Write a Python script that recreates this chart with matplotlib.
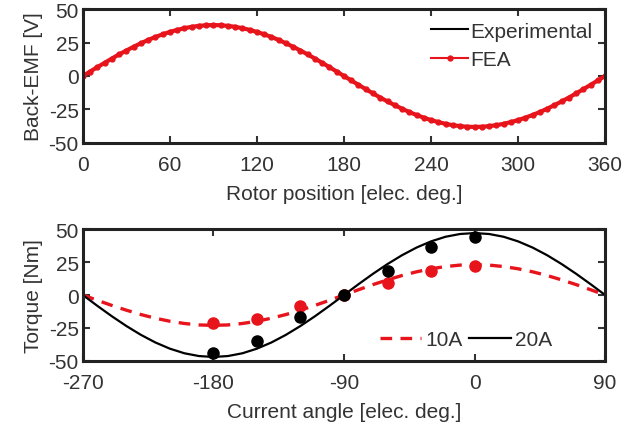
import matplotlib.pyplot as plt

plt.rcParams['font.family'] = ['Liberation Sans', 'DejaVu Sans']
plt.rcParams['font.size'] = 15
plt.rcParams['axes.unicode_minus'] = False
plt.rcParams['text.color'] = '#333333'
plt.rcParams['axes.labelcolor'] = '#333333'
plt.rcParams['xtick.color'] = '#333333'
plt.rcParams['ytick.color'] = '#333333'

# back-EMF vs rotor position
pos_fea = list(range(0, 361, 5))
emf_fea = [0, 3.3, 6.6, 9.8, 13.0, 16.1, 19.0, 21.8, 24.4, 26.9, 29.1, 31.1, 32.9, 34.4, 35.7, 36.7, 37.4, 37.9, 38.0,
           37.9, 37.4, 36.7, 35.7, 34.4, 32.9, 31.1, 29.1, 26.9, 24.4, 21.8, 19.0, 16.1, 13.0, 9.8, 6.6, 3.3, 0,
           -3.3, -6.6, -9.8, -13.0, -16.1, -19.0, -21.8, -24.4, -26.9, -29.1, -31.1, -32.9, -34.4, -35.7, -36.7, -37.4, -37.9, -38.0,
           -37.9, -37.4, -36.7, -35.7, -34.4, -32.9, -31.1, -29.1, -26.9, -24.4, -21.8, -19.0, -16.1, -13.0, -9.8, -6.6, -3.3, 0]
pos_exp = list(range(0, 361, 10))
emf_exp = [0, 6.5, 12.9, 19.0, 24.4, 29.1, 32.9, 35.7, 37.4, 38.0, 37.4, 35.7, 32.9, 29.1, 24.4, 19.0, 12.9, 6.5, 0,
           -6.5, -12.9, -19.0, -24.4, -29.1, -32.9, -35.7, -37.4, -38.0, -37.4, -35.7, -32.9, -29.1, -24.4, -19.0, -12.9, -6.5, 0]

# torque vs current angle
ang_curve = list(range(-270, 91, 10))
tq20_curve = [0, -8.2, -16.1, -23.5, -30.2, -36.0, -40.7, -44.2, -46.3, -47.0, -46.3, -44.2, -40.7, -36.0, -30.2, -23.5, -16.1, -8.2,
              0, 8.2, 16.1, 23.5, 30.2, 36.0, 40.7, 44.2, 46.3, 47.0, 46.3, 44.2, 40.7, 36.0, 30.2, 23.5, 16.1, 8.2, 0]
tq10_curve = [0, -4.0, -7.9, -11.5, -14.8, -17.6, -19.9, -21.6, -22.7, -23.0, -22.7, -21.6, -19.9, -17.6, -14.8, -11.5, -7.9, -4.0,
              0, 4.0, 7.9, 11.5, 14.8, 17.6, 19.9, 21.6, 22.7, 23.0, 22.7, 21.6, 19.9, 17.6, 14.8, 11.5, 7.9, 4.0, 0]
ang_meas = [-180, -150, -120, -90, -60, -30, 0]
tq20_meas = [-44, -35, -17, 0, 18.5, 36.5, 44]
tq10_meas = [-21.5, -18.5, -8.5, 0, 9, 18.5, 22.3]

fig = plt.figure(figsize=(6.37, 4.35), dpi=100)
ax1 = fig.add_axes([0.130, 0.669, 0.820, 0.308])
ax2 = fig.add_axes([0.130, 0.168, 0.820, 0.303])

ax1.plot(pos_exp, emf_exp, color='black', lw=1.5, label='Experimental')
ax1.plot(pos_fea, emf_fea, color='#e8141c', lw=3, marker='o', ms=3.5, label='FEA')
ax1.set_xlim(0, 360)
ax1.set_ylim(-50, 50)
ax1.set_xticks([0, 60, 120, 180, 240, 300, 360])
ax1.set_yticks([-50, -25, 0, 25, 50])
ax1.set_xlabel('Rotor position [elec. deg.]', labelpad=7)
ax1.set_ylabel('Back-EMF [V]', labelpad=4)
leg1 = ax1.legend(loc='upper right', frameon=False, handlelength=1.8, handletextpad=0.1,
                  borderaxespad=0.2, labelspacing=0.45)
leg1.legend_handles[1].set_linewidth(1.5)

ax2.plot(ang_curve, tq10_curve, color='#e8141c', lw=2.4, ls=(0, (3.5, 2.5)), label='10A')
ax2.plot(ang_curve, tq20_curve, color='black', lw=1.6, label='20A')
ax2.plot(ang_meas, tq10_meas, 'o', color='#e8141c', ms=8)
ax2.plot(ang_meas, tq20_meas, 'o', color='black', ms=8)
ax2.set_xlim(-270, 90)
ax2.set_ylim(-50, 50)
ax2.set_xticks([-270, -180, -90, 0, 90])
ax2.set_yticks([-50, -25, 0, 25, 50])
ax2.set_xlabel('Current angle [elec. deg.]', labelpad=7)
ax2.set_ylabel('Torque [Nm]', labelpad=4)
ax2.legend(loc='lower right', bbox_to_anchor=(0.92, 0.0), ncol=2, frameon=False,
           handlelength=2.0, handletextpad=0.2, columnspacing=0.3, borderaxespad=0.15)

for ax in (ax1, ax2):
    for s in ax.spines.values():
        s.set_linewidth(2.2)
        s.set_color('#222222')
    ax.tick_params(direction='in', top=True, right=True, length=5, width=1.5, pad=9)
    ax.tick_params(axis='y', pad=3)

fig.savefig('out.png', dpi=100)
